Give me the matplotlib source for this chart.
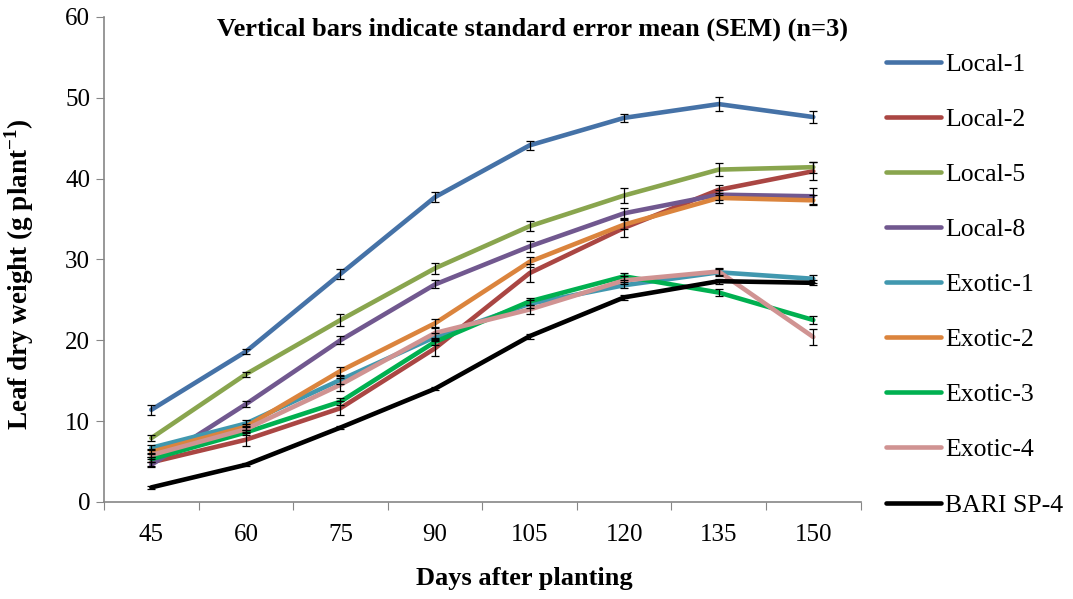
import matplotlib
matplotlib.use("Agg")
import matplotlib.pyplot as plt
import numpy as np

plt.rcParams["font.family"] = ["Liberation Serif", "DejaVu Serif"]
plt.rcParams["mathtext.fontset"] = "custom"
plt.rcParams["mathtext.rm"] = "Liberation Serif"
plt.rcParams["mathtext.bf"] = "Liberation Serif:bold"

days = ["45", "60", "75", "90", "105", "120", "135", "150"]

local1 = [11.4, 18.6, 28.2, 37.7, 44.1, 47.5, 49.2, 47.6]
local2 = [4.9, 7.7, 11.6, 19.0, 28.3, 33.9, 38.6, 40.9]
local5 = [7.9, 15.8, 22.5, 28.9, 34.1, 37.9, 41.1, 41.4]
local8 = [4.6, 12.1, 20.0, 26.9, 31.6, 35.7, 38.0, 37.8]
exotic1 = [6.7, 9.7, 15.1, 20.4, 24.5, 26.8, 28.4, 27.6]
exotic2 = [6.2, 9.3, 16.2, 22.1, 29.7, 34.3, 37.6, 37.3]
exotic3 = [5.3, 8.6, 12.4, 19.8, 24.8, 27.9, 25.9, 22.5]
exotic4 = [5.8, 9.0, 14.5, 20.9, 23.8, 27.4, 28.5, 20.4]
bari_sp4 = [1.8, 4.6, 9.2, 14.0, 20.5, 25.3, 27.3, 27.1]

err_local1 = [0.6, 0.3, 0.6, 0.6, 0.55, 0.5, 0.9, 0.7]
err_local2 = [0.4, 0.8, 0.9, 1.0, 1.1, 1.1, 0.6, 1.1]
err_local5 = [0.4, 0.3, 0.8, 0.7, 0.6, 0.9, 0.8, 0.7]
err_local8 = [0.3, 0.4, 0.5, 0.5, 0.7, 0.6, 0.6, 1.0]
err_exotic1 = [0.3, 0.4, 0.5, 0.5, 0.5, 0.4, 0.4, 0.5]
err_exotic2 = [0.3, 0.4, 0.45, 0.5, 0.6, 0.6, 0.6, 0.6]
err_exotic3 = [0.3, 0.3, 0.4, 0.4, 0.4, 0.4, 0.45, 0.45]
err_exotic4 = [0.3, 0.4, 0.8, 0.6, 0.5, 0.5, 0.4, 1.0]
err_bari = [0.2, 0.2, 0.2, 0.2, 0.3, 0.3, 0.3, 0.3]

names = ["Local-1", "Local-2", "Local-5", "Local-8",
         "Exotic-1", "Exotic-2", "Exotic-3", "Exotic-4", "BARI SP-4"]
colors = ["#4572A7", "#AA4643", "#89A54E", "#71588F",
          "#4198AF", "#DB843D", "#00B050", "#D09392", "#000000"]

series = [local1, local2, local5, local8, exotic1, exotic2, exotic3, exotic4, bari_sp4]
errors = [err_local1, err_local2, err_local5, err_local8, err_exotic1,
          err_exotic2, err_exotic3, err_exotic4, err_bari]

fig = plt.figure(figsize=(10.73, 5.99), dpi=100)
ax = fig.add_axes([0.097, 0.162, 0.705, 0.81])

x = np.arange(len(days))
for name, vals, color in zip(names, series, colors):
    ax.plot(x, vals, color=color, lw=3.3, label=name, solid_capstyle="round",
            solid_joinstyle="round")
for vals, err in zip(series, errors):
    ax.errorbar(x, vals, yerr=err, fmt="none", ecolor="black", elinewidth=0.9,
                capsize=3.2, capthick=0.9, zorder=5)

ax.set_xlim(-0.5, len(days) - 0.5)
ax.set_ylim(0, 60)
ax.set_yticks(range(0, 61, 10))
ax.set_xticks(np.arange(-0.5, len(days), 1.0))
ax.set_xticklabels([])
ax.set_xticks(x, minor=True)
ax.set_xticklabels(days, minor=True)
ax.tick_params(axis="x", which="minor", length=0, pad=16, labelsize=18)
ax.tick_params(axis="x", which="major", length=6, color="#868686", direction="out")
ax.tick_params(axis="y", length=6, color="#868686", direction="out", labelsize=18, pad=4)

for side in ["top", "right"]:
    ax.spines[side].set_visible(False)
for side in ["left", "bottom"]:
    ax.spines[side].set_color("#868686")
    ax.spines[side].set_linewidth(1.2)

ax.set_xlabel("Days after planting", fontsize=19, fontweight="bold")
ax.xaxis.set_label_coords(0.556, -0.135)
ax.set_ylabel(r"Leaf dry weight (g plant$^{\mathbf{-1}}$)", fontsize=19.5,
              fontweight="bold")
ax.yaxis.set_label_coords(-0.09, 0.47)
ax.text(0.566, 0.975, "Vertical bars indicate standard error mean (SEM) (n=3)",
        transform=ax.transAxes, ha="center", va="center", fontsize=19,
        fontweight="bold")

ax.legend(loc="upper left", bbox_to_anchor=(0.8255, 0.912),
          bbox_transform=fig.transFigure, frameon=False, fontsize=18.5,
          handlelength=2.15, handletextpad=0.15, labelspacing=1.25,
          borderpad=0, borderaxespad=0)

fig.savefig("out.png", dpi=100)
